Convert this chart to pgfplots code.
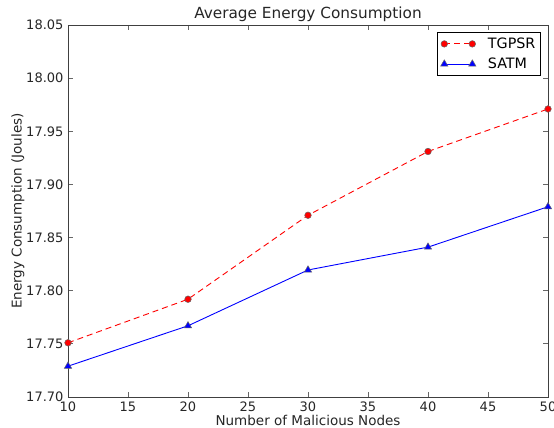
\documentclass[border=0pt]{standalone}
\usepackage{pgfplots}
\pgfplotsset{compat=1.18}
\usepackage{fontspec}
\setmainfont{DejaVu Sans}
\pgfplotsset{mylegend/.style={legend image code/.code={\draw[##1] plot coordinates {(0pt,0pt) (28pt,0pt)};}}}
\begin{document}
\begin{tikzpicture}
\begin{axis}[
  scale only axis,
  width=480pt, height=372pt,
  xmin=10, xmax=50, ymin=17.70, ymax=18.05,
  xtick={10,15,...,50},
  ytick={17.70,17.75,17.80,17.85,17.90,17.95,18.00,18.05},
  y tick label style={/pgf/number format/fixed, /pgf/number format/fixed zerofill, /pgf/number format/precision=2, xshift=-1pt},
  /pgf/number format/assume math mode=true,
  tick align=inside,
  tick pos=both,
  major tick length=5pt,
  axis line style={black!75, line width=0.9pt},
  tick style={black!60, line width=0.8pt},
  ticklabel style={font=\fontsize{13}{15}\selectfont, text=black!85},
  x tick label style={yshift=-1pt},
  title={Average Energy Consumption},
  title style={font=\fontsize{15.3}{18}\selectfont, text=black!85, yshift=-6pt},
  xlabel={Number of Malicious Nodes},
  ylabel={Energy Consumption (Joules)},
  label style={font=\fontsize{13.5}{16}\selectfont, text=black!85},
  xlabel style={yshift=3pt},
  ylabel style={yshift=-5pt},
  legend style={font=\fontsize{14.3}{17}\selectfont, draw=black, line width=0.8pt,
    at={(0.985,0.98)}, anchor=north east, inner sep=3pt, row sep=4pt,
    /tikz/every odd column/.append style={column sep=10pt}},
  legend cell align=left,
  clip=false,
]
\addplot[red, line width=0.9pt, dash pattern=on 6pt off 4pt,
  mark=*, mark size=3.3pt, mark options={solid, fill=red, draw=black!60, line width=0.5pt}, mylegend]
  coordinates {(10,17.751) (20,17.792) (30,17.871) (40,17.931) (50,17.971)};
\addlegendentry{TGPSR}
\addplot[blue, line width=0.9pt,
  mark=triangle*, mark size=4.2pt, mark options={solid, fill=blue, draw=black!60, line width=0.5pt}, mylegend]
  coordinates {(10,17.729) (20,17.767) (30,17.8195) (40,17.841) (50,17.879)};
\addlegendentry{SATM}
\end{axis}
\pgfresetboundingbox
\path (-68pt,-31pt) rectangle (486pt,397pt);
\end{tikzpicture}
\end{document}
